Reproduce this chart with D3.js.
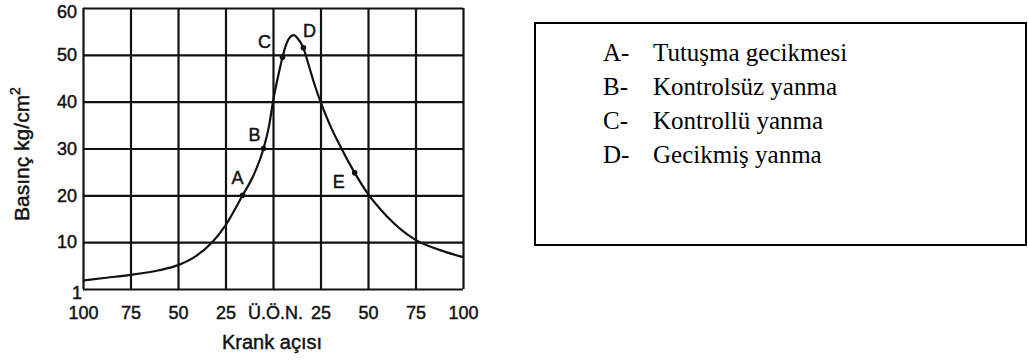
<!DOCTYPE html>
<html>
<head>
<meta charset="utf-8">
<script src="https://cdn.jsdelivr.net/npm/d3@7"></script>
<style>
  html, body { margin: 0; padding: 0; background: #fff; }
  svg { display: block; }
</style>
</head>
<body>
<svg id="chart" width="1028" height="363"></svg>
<script>
// Crank angle (negative = before TDC) and cylinder pressure in kg/cm²
const crankAngle = [-100, -90, -75, -60, -50, -40, -32, -25, -16, -10, -5, -2, 0, 3, 5, 7, 9, 11, 13, 16, 19, 22, 25, 30, 35, 43, 50, 60, 75, 88, 100];
const pressure   = [1.8, 2.3, 3.0, 4.0, 5.1, 7.2, 10, 13.6, 20, 24.5, 30, 35, 40, 46, 49.5, 52.3, 53.8, 54.2, 53.5, 51.5, 47.5, 43.5, 40, 35, 30.8, 24.8, 20.3, 15.5, 10.5, 8.3, 6.8];

// Marked combustion phases on the curve
const phaseLetters  = ["A", "B", "C", "D", "E"];
const phaseAngles   = [-16, -5, 5, 16, 43];
const phasePressure = [20, 30, 49.5, 51.5, 24.8];

// Axis ticks and their printed labels
const xTicks      = [-100, -75, -50, -25, 0, 25, 50, 75, 100];
const xTickLabels = ["100", "75", "50", "25", "Ü.Ö.N.", "25", "50", "75", "100"];
const yTicks      = [0, 10, 20, 30, 40, 50, 60];
const yTickLabels = ["1", "10", "20", "30", "40", "50", "60"];

// Legend
const legendKeys  = ["A-", "B-", "C-", "D-"];
const legendTexts = ["Tutuşma gecikmesi", "Kontrolsüz yanma", "Kontrollü yanma", "Gecikmiş yanma"];

const svg = d3.select("#chart");
const plotLeft = 83, plotRight = 463, plotTop = 8, plotBottom = 289;

const x = d3.scaleLinear().domain([-100, 100]).range([plotLeft, plotRight]);
const y = d3.scaleLinear().domain([0, 60]).range([plotBottom, plotTop]);

const ink = "#111";
const sans = "'Liberation Sans', Arial, sans-serif";

// Heavier sans text, like the printed figure lettering
function heavy(sel, size) {
  sel.attr("fill", ink)
    .attr("stroke", ink).attr("stroke-width", 0.45)
    .style("font-family", sans)
    .style("font-size", size + "px");
  return sel;
}

// Grid (also forms the frame)
const gx = svg.append("g")
  .attr("transform", `translate(0,${plotBottom})`)
  .call(d3.axisBottom(x).tickValues(xTicks).tickSize(-(plotBottom - plotTop)).tickPadding(17)
    .tickFormat((d, i) => xTickLabels[i]));
const gy = svg.append("g")
  .attr("transform", `translate(${plotLeft},0)`)
  .call(d3.axisLeft(y).tickValues(yTicks).tickSize(-(plotRight - plotLeft)).tickPadding(6)
    .tickFormat((d, i) => yTickLabels[i]));

[gx, gy].forEach(g => {
  g.select(".domain").remove();
  g.selectAll(".tick line").attr("stroke", ink).attr("stroke-width", 2.2);
  heavy(g.selectAll(".tick text"), 18);
});
gx.selectAll(".tick text").attr("dy", "0.71em");
gx.selectAll(".tick text").filter((d, i) => xTickLabels[i] === "Ü.Ö.N.").attr("dx", 2);
gy.selectAll(".tick text").filter((d, i) => yTickLabels[i] === "1")
  .attr("dx", 5).attr("dy", "0.5em");
gy.selectAll(".tick text").filter((d, i) => yTickLabels[i] === "60")
  .attr("dy", "0.5em");

// Pressure curve
const line = d3.line()
  .x((d, i) => x(crankAngle[i]))
  .y((d, i) => y(pressure[i]))
  .curve(d3.curveMonotoneX);
svg.append("path")
  .datum(pressure)
  .attr("d", line)
  .attr("fill", "none")
  .attr("stroke", ink)
  .attr("stroke-width", 2.2);

// Phase markers and letters
const labelOffset = { A: [-5, -17], B: [-9, -14], C: [-18, -15], D: [6, -17], E: [-16, 9] };
const phases = phaseLetters.map((l, i) => ({ l, a: phaseAngles[i], p: phasePressure[i] }));
svg.selectAll("circle.phase").data(phases).join("circle")
  .attr("class", "phase")
  .attr("cx", d => x(d.a)).attr("cy", d => y(d.p)).attr("r", 2.8)
  .attr("fill", ink);
heavy(svg.selectAll("text.phase").data(phases).join("text"), 18)
  .attr("class", "phase")
  .attr("x", d => x(d.a) + labelOffset[d.l][0])
  .attr("y", d => y(d.p) + labelOffset[d.l][1])
  .attr("text-anchor", "middle").attr("dominant-baseline", "central")
  .text(d => d.l);

// Axis titles
heavy(svg.append("text"), 20)
  .attr("x", 272).attr("y", 342)
  .attr("text-anchor", "middle").attr("dominant-baseline", "central")
  .text("Krank açısı");

const yTitle = heavy(svg.append("text"), 21)
  .attr("transform", "translate(21,154) rotate(-90)")
  .attr("text-anchor", "middle").attr("dominant-baseline", "central");
yTitle.append("tspan").text("Basınç kg/cm");
yTitle.append("tspan").attr("dy", "-0.45em").style("font-size", "14px").text("2");

// Legend box
const legend = svg.append("g");
legend.append("rect")
  .attr("x", 535).attr("y", 23).attr("width", 491).attr("height", 222)
  .attr("fill", "none").attr("stroke", "#000").attr("stroke-width", 2);
const serif = "'Liberation Serif', 'Times New Roman', serif";
const rows = legend.selectAll("g.row").data(legendKeys).join("g")
  .attr("class", "row")
  .attr("transform", (d, i) => `translate(0,${61 + i * 34})`);
rows.append("text")
  .attr("x", 603)
  .style("font-family", serif).style("font-size", "25px")
  .text(d => d);
rows.append("text")
  .attr("x", 653)
  .style("font-family", serif).style("font-size", "25px")
  .text((d, i) => legendTexts[i]);
</script>
</body>
</html>
